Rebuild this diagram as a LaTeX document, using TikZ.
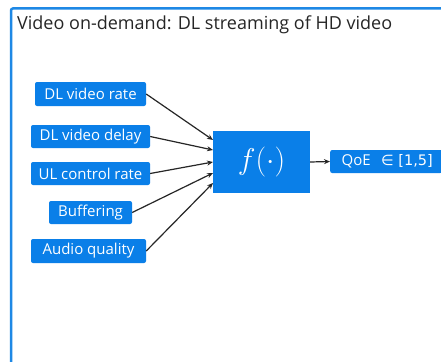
\RequirePackage{fix-cm}
\documentclass[tikz,border=0pt]{standalone}
\usepackage{fontspec}
\setmainfont{Open Sans}
\newfontfamily\symfont{DejaVu Sans}
\usetikzlibrary{arrows.meta}
\definecolor{ebl}{HTML}{0A7FE8}
\definecolor{frameblue}{HTML}{1E88E5}
\tikzset{
  inbox/.style={fill=ebl, text=white, rounded corners=2pt, inner sep=0pt, font=\fontsize{15}{17}\selectfont},
  conn/.style={-{Stealth[length=6pt,width=5pt]}, line width=1.2pt, black!85},
}
\begin{document}
\begin{tikzpicture}[x=1pt,y=-1pt]
\useasboundingbox (0,0) rectangle (441,361);
\fill[white] (0,0) rectangle (441,361);
\draw[frameblue, line width=2.5pt, rounded corners=2pt] (11,372) -- (11,8.5) -- (452,8.5);
\node[anchor=base west, font=\fontsize{18}{21}\selectfont, text=black!85, inner sep=0pt] (title) at (17,30) {Video on-demand: DL streaming of HD video};
% input boxes
\node[inbox, minimum width=111pt, minimum height=24pt] (a) at (90.5,94) {DL video rate};
\node[inbox, minimum width=119pt, minimum height=23pt] (b) at (90.5,136.5) {DL video delay};
\node[inbox, minimum width=119pt, minimum height=23pt] (c) at (90.5,173.5) {UL control rate};
\node[inbox, minimum width=83pt, minimum height=23pt] (d) at (90.5,212.5) {Buffering};
\node[inbox, minimum width=115pt, minimum height=24pt] (e) at (88.5,251) {Audio quality};
% function box
\node[fill=ebl, text=white, minimum width=97pt, minimum height=62pt, inner sep=0pt, font=\fontsize{30}{34}\selectfont] (f) at (261.5,162) {$f(\cdot)$};
% output
\node[inbox, minimum width=112pt, minimum height=23pt, anchor=west] (q) at (330,161.5) {\hspace{2pt}QoE\hspace{0.7em}{\symfont\fontsize{14.5}{17}\selectfont ∈ [1,5]}};
% coordinates on f's left side
\coordinate (fa) at (213,140);
\coordinate (fb) at (213,150);
\coordinate (fc) at (213,162);
\coordinate (fd) at (213,173);
\coordinate (fe) at (213,183);
\draw[conn] (a.east) -- (fa);
\draw[conn] (b.east) -- (fb);
\draw[conn] (c.east) -- (fc);
\draw[conn] (d.east) -- (fd);
\draw[conn] (e.east) -- (fe);
\draw[conn] (f.east) -- (q.west);
\end{tikzpicture}
\end{document}
